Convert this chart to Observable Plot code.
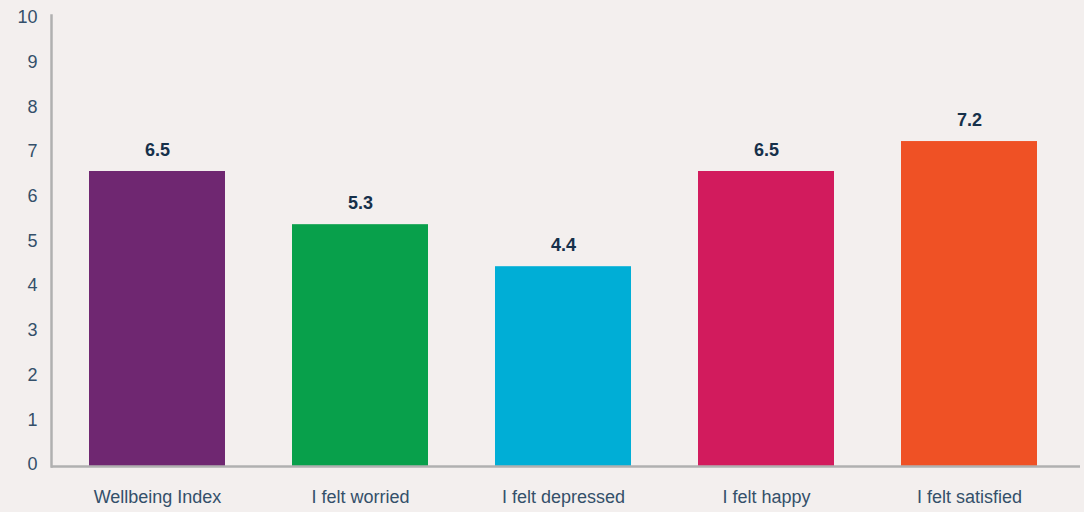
<!DOCTYPE html>
<html>
<head>
<meta charset="utf-8">
<script src="https://cdn.jsdelivr.net/npm/d3@7"></script>
<script src="https://cdn.jsdelivr.net/npm/@observablehq/plot@0.6"></script>
<style>
  html, body { margin: 0; padding: 0; background: #f3efee; }
  #chart svg { display: block; background: #f3efee; }
</style>
</head>
<body>
<div id="chart"></div>
<script>
const categories = ["Wellbeing Index", "I felt worried", "I felt depressed", "I felt happy", "I felt satisfied"];
const values = [6.6, 5.41, 4.47, 6.6, 7.27];
const valueLabels = ["6.5", "5.3", "4.4", "6.5", "7.2"];
const colors = ["#6f2771", "#08a04b", "#00aed6", "#d21b5d", "#ef5125"];
const yTicks = [0, 1, 2, 3, 4, 5, 6, 7, 8, 9, 10];

const data = categories.map((c, i) => ({category: c, value: values[i], label: valueLabels[i], color: colors[i]}));

const chart = Plot.plot({
  width: 1084,
  height: 512,
  marginTop: 15,
  marginBottom: 46,
  marginLeft: 51,
  marginRight: 4,
  style: {background: "#f3efee", fontFamily: "'Liberation Sans', Arial, sans-serif"},
  x: {domain: categories, range: [54.4, 1071.4], paddingInner: 0.33, paddingOuter: 0.165},
  y: {domain: [0, 10.09]},
  marks: [
    Plot.barY(data, {x: "category", y: "value", fill: "color"}),
    Plot.text(data, {x: "category", y: "value", text: "label", dy: -21, fill: "#16304a", fontSize: 18, fontWeight: "bold"}),
    Plot.axisY({ticks: yTicks, tickSize: 0, tickPadding: 14, fontSize: 18, color: "#34506a", label: null, dy: -2}),
    Plot.axisX({tickSize: 0, tickPadding: 24, fontSize: 18, color: "#34506a", label: null}),
    Plot.frame({anchor: "left", stroke: "#b0b0b0", strokeWidth: 2.5}),
    Plot.ruleY([0], {stroke: "#b0b0b0", strokeWidth: 2.5})
  ]
});
document.getElementById("chart").appendChild(chart);
</script>
</body>
</html>
